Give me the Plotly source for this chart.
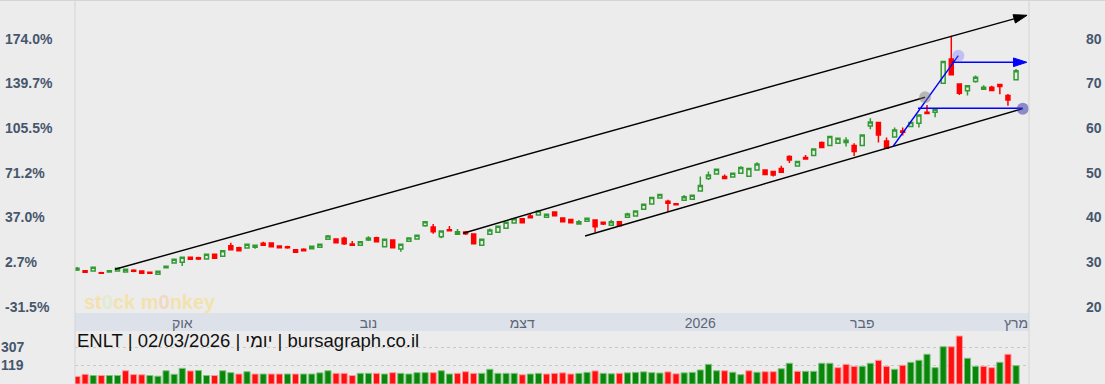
import plotly.graph_objects as go

# ---------------- data ----------------
OPEN = [28.22, 28.06, 28.00, 27.62, 27.77, 28.00, 27.77, 28.15, 28.00, 27.70,
        27.26, 28.74, 29.79, 29.94, 31.06, 30.98, 30.68, 31.73, 31.29, 33.66,
        33.22, 33.15, 33.30, 34.20, 34.27, 33.60, 33.44, 32.77, 32.86, 32.97,
        33.30, 35.10, 35.16, 35.32, 34.04, 33.75, 34.94, 35.46, 33.44, 34.94,
        32.92, 34.65, 35.16, 38.14, 37.85, 35.68, 37.25, 36.22, 36.73, 36.28,
        33.75, 36.22, 36.66, 37.56, 38.75, 39.71, 40.32, 40.54, 40.02, 41.21,
        39.87, 39.53, 38.52, 39.13, 39.42, 38.90, 38.23, 39.04, 40.02, 40.32,
        41.82, 43.00, 44.35, 43.63, 43.07, 43.83, 44.08, 45.92, 48.72, 49.72,
        49.12, 49.05, 49.88, 49.23, 50.62, 50.62, 50.24, 50.96, 53.64, 51.52,
        53.38, 53.87, 56.74, 56.06, 56.60, 56.74, 56.06, 56.06, 60.48, 61.22,
        57.12, 58.01, 59.36, 60.32, 61.08, 63.54, 63.54, 70.04, 75.44, 69.88,
        68.32, 70.40, 68.70, 69.14, 69.73, 67.26, 70.78]
HIGH = [28.89, 28.22, 28.90, 27.84, 28.10, 28.70, 28.45, 28.38, 28.05, 27.75,
        27.98, 29.10, 30.70, 31.10, 31.20, 31.20, 31.80, 31.80, 32.60, 34.34,
        33.44, 34.05, 33.89, 34.56, 34.30, 33.65, 33.66, 32.80, 33.08, 33.60,
        34.05, 36.06, 35.20, 35.68, 34.72, 34.60, 35.77, 35.68, 35.15, 35.00,
        34.05, 35.45, 36.05, 39.10, 38.52, 37.00, 38.08, 37.40, 36.96, 36.30,
        35.15, 37.52, 38.05, 38.95, 39.75, 39.75, 40.76, 41.50, 40.75, 41.25,
        39.90, 39.55, 39.42, 39.85, 39.45, 39.10, 39.49, 39.10, 41.06, 41.50,
        43.00, 44.50, 45.20, 43.97, 43.10, 45.02, 45.00, 49.12, 50.24, 50.85,
        49.57, 49.95, 51.45, 51.00, 52.34, 50.65, 50.46, 51.58, 53.91, 52.60,
        53.98, 55.40, 56.96, 58.10, 57.80, 57.94, 56.60, 58.50, 62.20, 61.30,
        57.86, 60.10, 60.10, 61.30, 63.00, 65.18, 64.30, 75.00, 80.64, 69.90,
        69.50, 71.74, 69.59, 69.44, 69.85, 67.64, 73.24]
LOW = [28.00, 27.55, 27.95, 27.45, 27.70, 27.95, 27.70, 27.70, 27.45, 27.45,
       27.20, 28.70, 29.75, 29.12, 30.55, 30.46, 30.60, 30.80, 31.25, 32.70,
       32.50, 33.10, 32.99, 33.70, 33.40, 33.20, 32.99, 32.15, 32.41, 32.90,
       33.25, 34.94, 34.30, 33.82, 33.70, 33.70, 34.72, 34.50, 33.40, 33.20,
       32.32, 34.60, 35.10, 37.92, 36.35, 35.32, 37.00, 36.20, 36.06, 34.05,
       33.70, 36.20, 36.60, 37.50, 38.70, 38.80, 39.90, 40.50, 40.00, 40.35,
       39.00, 38.80, 38.40, 39.10, 36.66, 38.30, 38.20, 38.10, 40.00, 40.30,
       41.80, 42.95, 44.30, 41.21, 42.80, 43.80, 44.05, 45.90, 48.38, 49.70,
       48.70, 49.00, 49.85, 49.20, 50.60, 49.55, 49.12, 50.05, 52.19, 51.50,
       53.05, 53.80, 55.60, 56.00, 56.55, 55.84, 53.76, 56.00, 59.74, 56.74,
       55.40, 58.00, 58.30, 60.30, 60.10, 63.20, 62.42, 69.95, 71.80, 67.42,
       67.26, 70.11, 68.65, 68.35, 67.58, 65.00, 70.75]
CLOSE = [28.60, 27.70, 28.82, 27.48, 28.06, 28.60, 28.38, 27.93, 27.48, 27.48,
         27.93, 29.05, 30.62, 31.06, 30.62, 30.68, 31.73, 30.84, 32.54, 32.77,
         32.54, 33.98, 33.75, 33.75, 33.44, 33.22, 33.22, 32.18, 32.54, 33.55,
         33.98, 35.84, 34.34, 34.11, 33.75, 34.56, 35.39, 34.56, 35.10, 33.22,
         33.98, 35.39, 35.99, 39.04, 36.80, 36.96, 37.02, 36.80, 36.35, 34.11,
         35.10, 37.18, 38.01, 38.90, 39.71, 38.82, 39.94, 41.44, 40.70, 40.38,
         39.04, 38.82, 39.04, 39.80, 37.92, 38.52, 39.04, 38.14, 40.76, 41.44,
         42.94, 44.46, 45.13, 43.16, 42.85, 44.62, 44.95, 47.15, 49.50, 50.78,
         48.72, 49.90, 51.18, 50.96, 51.92, 49.57, 49.50, 50.10, 52.82, 52.52,
         53.08, 55.32, 55.62, 58.08, 57.72, 57.27, 54.72, 58.46, 61.37, 58.46,
         55.48, 59.58, 59.06, 61.22, 62.94, 63.23, 64.22, 74.88, 71.90, 67.80,
         69.44, 71.38, 69.14, 68.38, 69.28, 66.30, 72.80]
VOLUME = [2, 25, 12, 12, 12, 12, 62, 22, 20, 12,
          5, 62, 25, 87, 60, 65, 12, 12, 62, 42,
          28, 52, 28, 28, 28, 28, 28, 28, 28, 28,
          40, 62, 35, 35, 12, 35, 35, 35, 28, 42,
          35, 28, 42, 42, 42, 62, 28, 35, 52, 35,
          35, 77, 35, 35, 35, 20, 28, 35, 28, 35,
          40, 28, 35, 45, 60, 35, 30, 35, 40, 45,
          50, 42, 38, 50, 30, 40, 45, 70, 129, 62,
          62, 46, 21, 62, 46, 52, 52, 83, 140, 56,
          56, 56, 140, 140, 94, 129, 108, 108, 140, 171,
          108, 77, 119, 150, 171, 234, 94, 313, 313, 425,
          192, 108, 108, 94, 150, 234, 115]

MONTH_TICK_IDX = [13, 36, 55, 77, 97, 116]
MONTH_TICK_TEXT = ["אוק", "נוב", "דצמ", "2026", "פבר", "מרץ"]
PRICE_TICKS = [20, 30, 40, 50, 60, 70, 80]
BASE_PRICE = 29.2
VOL_TICKS = [119, 307]
TITLE = "ENLT | 02/03/2026 | יומי | bursagraph.co.il"
WATERMARK = "st<span style='color:#e3ead0'>0</span>ck m<span style='color:#f1d8c4'>0</span>nkey"

# drawn studies: x = trading-day index, y = price
UPPER_LINE_X = [4.69, 117.36]
UPPER_LINE_Y = [28.38, 85.24]
MID_LINE_X = [47.72, 104.76]
MID_LINE_Y = [36.44, 66.88]
LOWER_LINE_X = [62.76, 116.83]
LOWER_LINE_Y = [35.83, 64.33]
BLUE_DIAG_X = [100.84, 108.87]
BLUE_DIAG_Y = [55.98, 76.19]
BLUE_HIGH_X = [108.05, 117.33]
BLUE_HIGH_Y = [74.72, 74.72]
BLUE_LOW_X = [103.89, 116.83]
BLUE_LOW_Y = [64.42, 64.42]
POINT_GREY = (104.76, 66.88)
POINT_LIGHT = (108.87, 76.19)
POINT_DARK = (116.83, 64.33)

# ---------------- styling ----------------
W, H = 1105, 384
BG = "#ececec"
GREEN = "#329a32"
RED = "#ff0000"
VGREEN = "#0a870a"
VRED = "#ff1010"
TICK_COL = "#46566c"
PX_L, PX_R = 75, 1029
PRICE_TOP, PRICE_BOT = 0, 313
BAND_BOT = 331
VOL_TOP = 335
PRICE_RANGE = [18.59, 88.66]
VOL_RANGE = [-76.5, 435.5]
VOL_FLOOR = VOL_RANGE[0]
X_RANGE = [-0.247, 117.6]

idx = list(range(len(CLOSE)))


def fx(px):
    return px / W


def fy(py):
    return (H - py) / H


fig = go.Figure()

fig.add_trace(go.Candlestick(
    x=idx, open=OPEN, high=HIGH, low=LOW, close=CLOSE,
    increasing=dict(line=dict(color=GREEN, width=1.5), fillcolor="rgba(0,0,0,0)"),
    decreasing=dict(line=dict(color=RED, width=1.5), fillcolor=RED),
    whiskerwidth=0, xaxis="x", yaxis="y", showlegend=False, hoverinfo="skip",
))

vcolors = []
for i, c in enumerate(CLOSE):
    up = i > 0 and c >= CLOSE[i - 1]
    vcolors.append(VGREEN if up else VRED)
vline = ["#7cc47c" if c == VGREEN else "#ff9a9a" for c in vcolors]
fig.add_trace(go.Bar(
    x=idx, y=[v - VOL_FLOOR for v in VOLUME], base=VOL_FLOOR,
    marker=dict(color=vcolors, line=dict(color=vline, width=1)),
    width=0.76, xaxis="x2", yaxis="y3", showlegend=False, hoverinfo="skip",
))


def seg(xs, ys, color, arrow=False):
    fig.add_trace(go.Scatter(
        x=xs, y=ys, mode="lines+markers" if arrow else "lines",
        line=dict(color=color, width=1.4),
        marker=dict(symbol="arrow", angleref="previous", size=[0, 14], color=color,
                    opacity=1, line=dict(color=color, width=1)) if arrow else None,
        xaxis="x", yaxis="y2", showlegend=False, hoverinfo="skip", cliponaxis=False,
    ))


seg(UPPER_LINE_X, UPPER_LINE_Y, "#000000", arrow=True)
seg(MID_LINE_X, MID_LINE_Y, "#000000")
seg(LOWER_LINE_X, LOWER_LINE_Y, "#000000")
seg(BLUE_DIAG_X, BLUE_DIAG_Y, "#0000ff")
seg(BLUE_HIGH_X, BLUE_HIGH_Y, "#0000ff", arrow=True)
seg(BLUE_LOW_X, BLUE_LOW_Y, "#0000ff")

for (px_, py_), col in [(POINT_GREY, "rgba(120,120,120,0.45)"),
                        (POINT_LIGHT, "rgba(110,110,255,0.35)"),
                        (POINT_DARK, "rgba(60,60,170,0.55)")]:
    fig.add_trace(go.Scatter(x=[px_], y=[py_], mode="markers",
                             marker=dict(size=12, color=col),
                             xaxis="x", yaxis="y2", showlegend=False, hoverinfo="skip",
                             cliponaxis=False))

pct_text = [f"{(p / BASE_PRICE - 1) * 100:.1f}%" for p in PRICE_TICKS]
tickfont = dict(family="Liberation Sans, Arial", size=14, color=TICK_COL, weight="bold")

fig.update_layout(
    width=W, height=H,
    margin=dict(l=0, r=0, t=0, b=0, pad=0),
    autosize=False,
    paper_bgcolor=BG, plot_bgcolor=BG,
    showlegend=False,
    xaxis=dict(domain=[fx(PX_L), fx(PX_R)], range=X_RANGE, anchor="y", automargin=False,
               tickvals=MONTH_TICK_IDX, ticktext=MONTH_TICK_TEXT, ticks="",
               tickfont=dict(family="Liberation Sans, Arial", size=14, color="#5c6576"),
               showgrid=False, zeroline=False, showline=False,
               rangeslider=dict(visible=False)),
    xaxis2=dict(domain=[fx(PX_L), fx(PX_R)], range=X_RANGE, anchor="y3", automargin=False,
                showticklabels=False, showgrid=False, zeroline=False, ticks=""),
    yaxis=dict(domain=[fy(PRICE_BOT), fy(PRICE_TOP)], range=PRICE_RANGE, automargin=False,
               side="right", anchor="free", position=fx(1085),
               tickvals=PRICE_TICKS, tickfont=tickfont, ticks="",
               showgrid=False, zeroline=False, showline=False),
    yaxis2=dict(domain=[fy(PRICE_BOT), fy(PRICE_TOP)], range=PRICE_RANGE, automargin=False,
                overlaying="y", side="right", anchor="free", position=fx(4),
                tickvals=PRICE_TICKS, ticktext=pct_text, tickfont=tickfont, ticks="",
                showgrid=False, zeroline=False, showline=False),
    yaxis3=dict(domain=[0, fy(VOL_TOP)], range=VOL_RANGE, automargin=False,
                side="right", anchor="free", position=0,
                tickvals=VOL_TICKS, tickfont=tickfont, ticks="",
                showgrid=True, gridcolor="#c9c9c9", griddash="dot", gridwidth=1,
                zeroline=False, showline=False),
    shapes=[
        dict(type="rect", xref="paper", yref="paper", x0=fx(PX_L), x1=fx(PX_R),
             y0=fy(BAND_BOT), y1=fy(PRICE_BOT), fillcolor="#dde2ea", line=dict(width=0), layer="below"),
        dict(type="line", xref="paper", yref="paper", x0=fx(PX_L), x1=fx(PX_L), y0=0, y1=1,
             line=dict(color="#d4d4d4", width=1)),
        dict(type="line", xref="paper", yref="paper", x0=fx(PX_R), x1=fx(PX_R), y0=0, y1=1,
             line=dict(color="#d4d4d4", width=1)),
        dict(type="line", xref="paper", yref="paper", x0=0, x1=1, y0=1, y1=1,
             line=dict(color="#d4d4d4", width=2)),
    ],
    annotations=[
        dict(text=TITLE, xref="paper", yref="paper", x=fx(PX_L), y=fy(340.5),
             xanchor="left", yanchor="middle", showarrow=False,
             font=dict(family="Liberation Sans, Arial", size=18.5, color="#111111")),
        dict(text=WATERMARK, xref="paper", yref="paper", x=fx(150), y=fy(302),
             xanchor="center", yanchor="middle", showarrow=False,
             font=dict(family="Liberation Sans, Arial", size=20, color="#f3e2ae", weight="bold")),
    ],
)

fig.write_html(
    "out.html",
    config={"displayModeBar": False},
    post_script="document.body.style.margin='0';document.body.style.padding='0';"
                "document.body.style.overflow='hidden';",
)
